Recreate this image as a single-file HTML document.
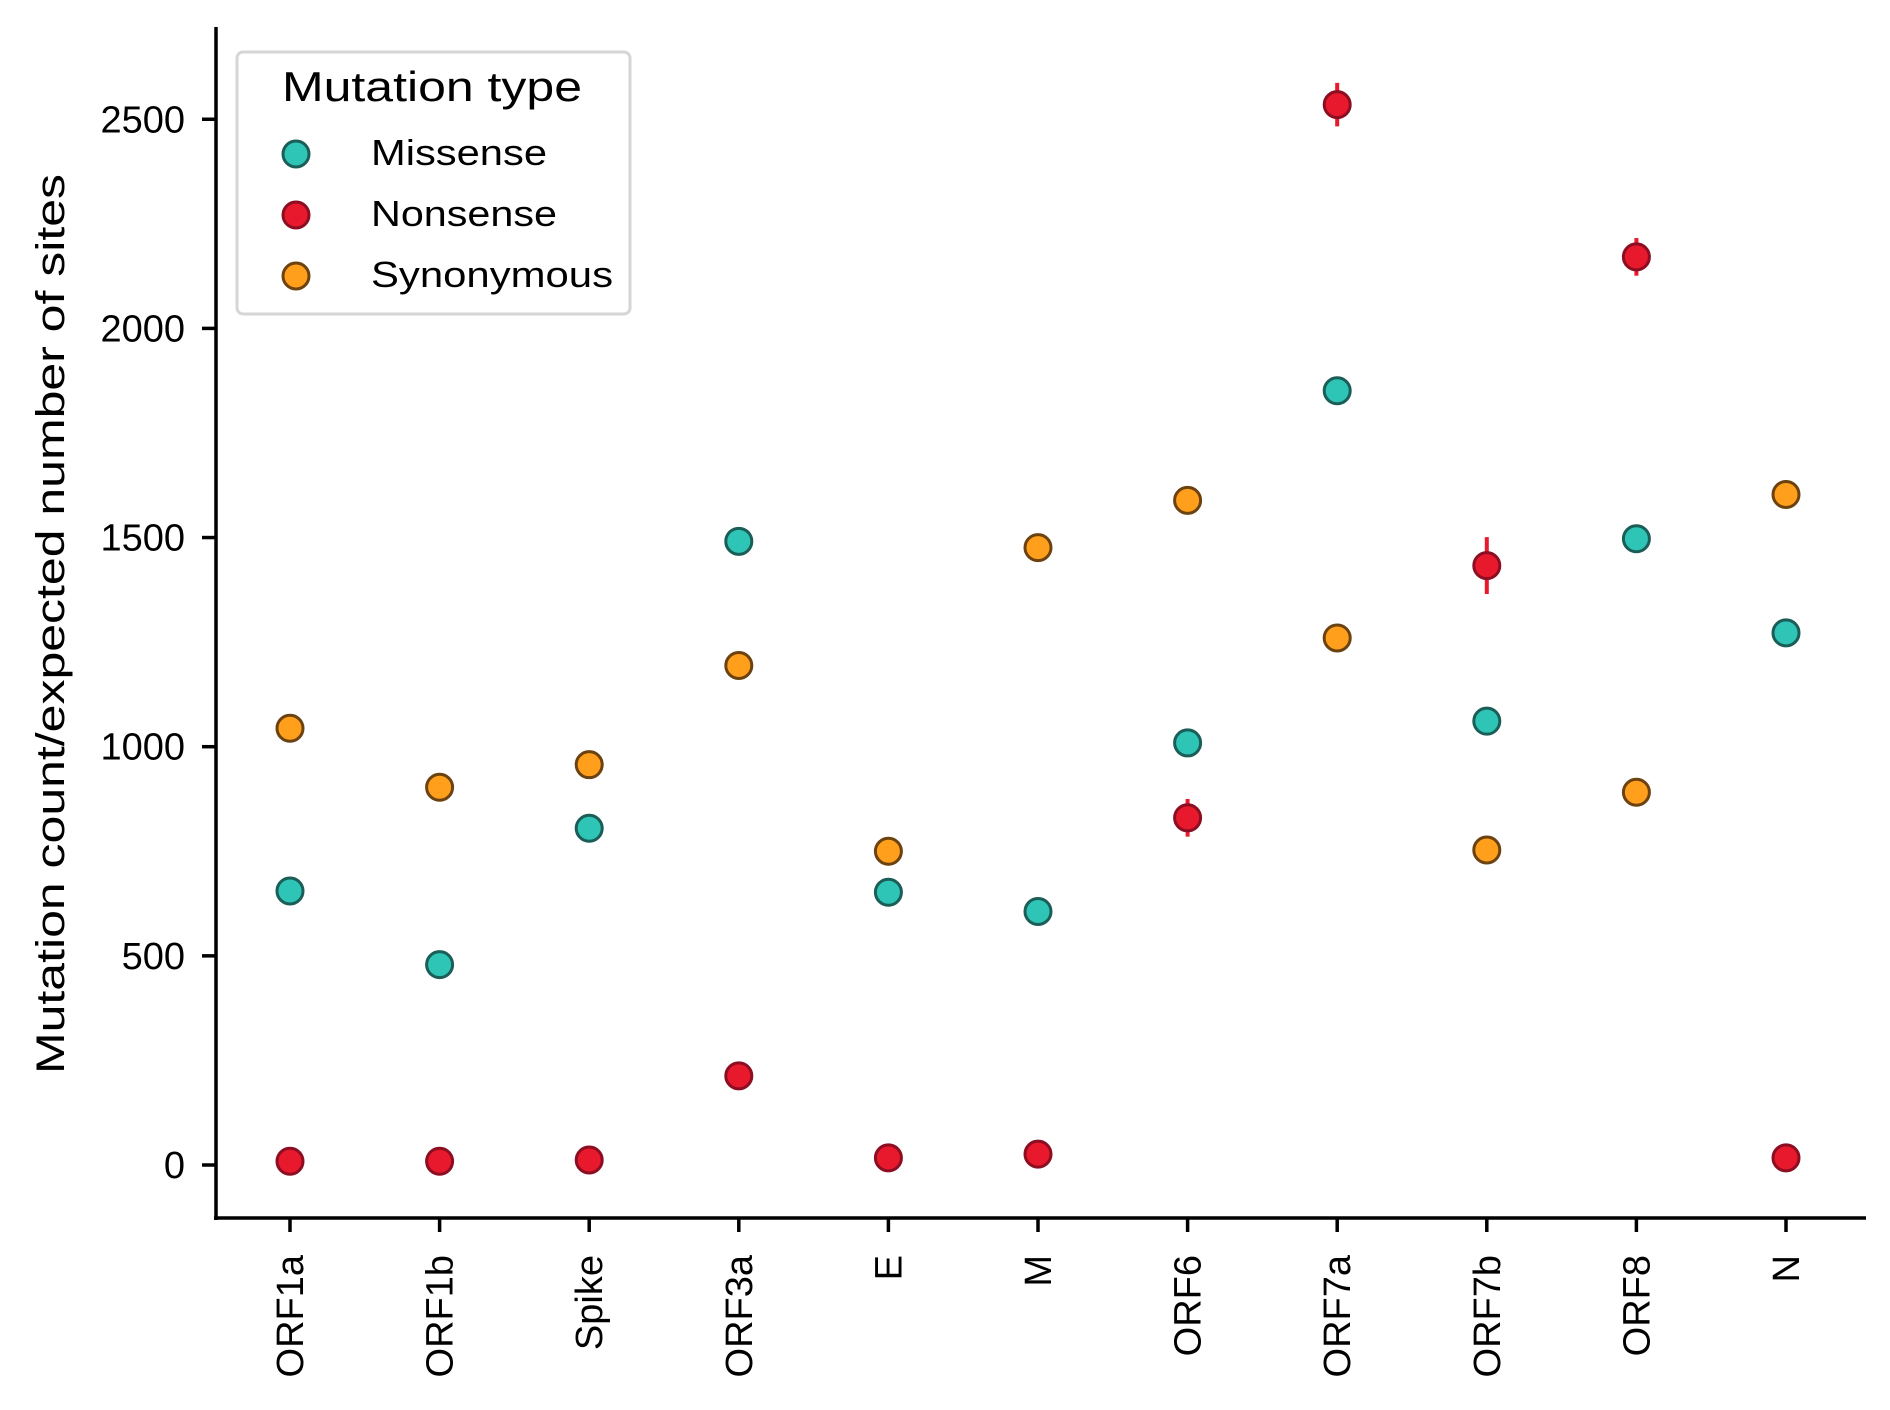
<!DOCTYPE html>
<html><head><meta charset="utf-8"><style>body{margin:0;background:#fff}svg{display:block}text{font-family:"Liberation Sans",sans-serif;fill:#000}</style></head>
<body>
<svg id="chart" width="1890" height="1410" viewBox="0 0 1890 1410" xmlns="http://www.w3.org/2000/svg"></svg>
<script>
const categories = ["ORF1a","ORF1b","Spike","ORF3a","E","M","ORF6","ORF7a","ORF7b","ORF8","N"];
const missense = [655,479,805,1491,652,606,1009,1851,1061,1497,1272];
const nonsense = [9,9,12,213,17,26,830,2535,1433,2171,17];
const nonsenseErr = [0,0,0,0,0,0,45,52,68,45,0];
const synonymous = [1044,903,957,1194,750,1476,1589,1260,753,891,1603];
const yTicks = [0,500,1000,1500,2000,2500];

const svg = document.getElementById('chart');
const NS = 'http://www.w3.org/2000/svg';
const X0 = 290, DX = 149.6, Y0 = 1165, KY = 0.4183;
const xs = i => X0 + i * DX;
const ys = v => Y0 - v * KY;
function mk(tag, attrs, parent) {
  const e = document.createElementNS(NS, tag);
  for (const k in attrs) e.setAttribute(k, attrs[k]);
  (parent || svg).appendChild(e);
  return e;
}
let ax = mk('line', {x1:216, y1:27, x2:216, y2:1220, stroke:'#000', 'stroke-width':3.5});


ax = mk('line', {x1:214, y1:1218, x2:1866, y2:1218, stroke:'#000', 'stroke-width':3.5});


yTicks.forEach(t => {
  const y = ys(t);
  mk('line', {x1:202, y1:y, x2:216, y2:y, stroke:'#000', 'stroke-width':3.5});
  const tx = mk('text', {x:185, y:y+13, 'text-anchor':'end', 'font-size':38});
  tx.textContent = t;
  
  
});
categories.forEach((c, i) => {
  const x = xs(i);
  mk('line', {x1:x, y1:1218, x2:x, y2:1232, stroke:'#000', 'stroke-width':3.5});
  const tx = mk('text', {x:0, y:0, 'text-anchor':'end', 'font-size':38, transform:`translate(${x+13},1255) rotate(-90)`});
  tx.textContent = c;
  
  
});
const yl = mk('text', {x:0, y:0, 'text-anchor':'middle', 'font-size':40, transform:'translate(64,624) rotate(-90)', textLength:900, lengthAdjust:'spacingAndGlyphs'});
yl.textContent = 'Mutation count/expected number of sites';



const series = [
  {name:'missense', vals:missense, fill:'#2ec4b6', stroke:'#1b5e57'},
  {name:'synonymous', vals:synonymous, fill:'#ff9f1c', stroke:'#6b4210'},
  {name:'nonsense', vals:nonsense, fill:'#e8192c', stroke:'#8c0e22'}
];
series.forEach(s => {
  s.vals.forEach((v, i) => {
    if (s.name === 'nonsense' && nonsenseErr[i] > 0) {
      const eb = mk('line', {x1:xs(i), y1:ys(v - nonsenseErr[i]), x2:xs(i), y2:ys(v + nonsenseErr[i]), stroke:'#e8192c', 'stroke-width':4});
      
      
    }
    const c = mk('circle', {cx:xs(i), cy:ys(v), r:13, fill:s.fill, stroke:s.stroke, 'stroke-width':3});
    
    
  });
});
</script>
<svg style="position:absolute;left:0;top:0" width="1890" height="1410">
  <rect x="237" y="52" width="393" height="262" rx="6" fill="#fff" fill-opacity="0.85" stroke="#d6d6d6" stroke-width="3"/>
  <text x="432" y="101" text-anchor="middle" font-size="42" textLength="300" lengthAdjust="spacingAndGlyphs">Mutation type</text>
  <circle cx="296" cy="154" r="13" fill="#2ec4b6" stroke="#1b5e57" stroke-width="3"/>
  <text x="371" y="165" font-size="36" textLength="176" lengthAdjust="spacingAndGlyphs">Missense</text>
  <circle cx="296" cy="215" r="13" fill="#e8192c" stroke="#8c0e22" stroke-width="3"/>
  <text x="371" y="226" font-size="36" textLength="186" lengthAdjust="spacingAndGlyphs">Nonsense</text>
  <circle cx="296" cy="276" r="13" fill="#ff9f1c" stroke="#6b4210" stroke-width="3"/>
  <text x="371" y="287" font-size="36" textLength="242" lengthAdjust="spacingAndGlyphs">Synonymous</text>
</svg>
</body></html>
